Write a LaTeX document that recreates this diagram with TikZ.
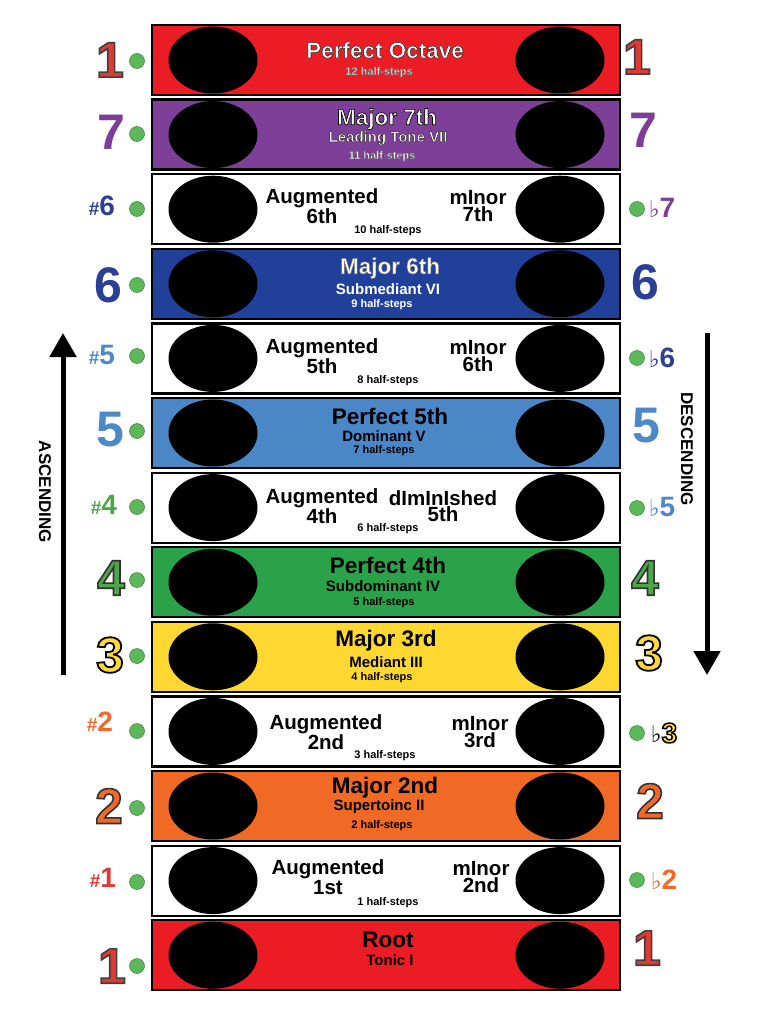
\documentclass[tikz,border=0pt]{standalone}
\usepackage{fontspec}
\setmainfont{Liberation Sans}
\newfontfamily\symfont{DejaVu Serif}
\usetikzlibrary{shapes.geometric,arrows.meta}
\definecolor{bRed}{HTML}{EC1C24}
\definecolor{bPurple}{HTML}{7E3F98}
\definecolor{bDBlue}{HTML}{21409A}
\definecolor{bLBlue}{HTML}{4B86C6}
\definecolor{bGreen}{HTML}{2AA24A}
\definecolor{bYellow}{HTML}{FFD731}
\definecolor{bOrange}{HTML}{F06A25}
\definecolor{nRed}{HTML}{E03A33}
\definecolor{nPurple}{HTML}{7B3F98}
\definecolor{nDBlue}{HTML}{2B3F94}
\definecolor{nLBlue}{HTML}{4D88C9}
\definecolor{nGreen}{HTML}{4FA54B}
\definecolor{nYellow}{HTML}{FFD93A}
\definecolor{nOrange}{HTML}{F0692A}
\definecolor{dotGreen}{HTML}{5DB85C}
% outlined text: #1 = stroke grey level (0..1), #2 = stroke width, #3 = text
\newcommand\ostroke[3]{\special{pdf:literal direct 2 Tr #2 w #1 G}#3\special{pdf:literal direct 0 Tr}}
\newcommand\flatsign{{\symfont\fontsize{23}{23}\selectfont ♭}}
\newcommand\sharpsign{{\fontsize{19}{19}\selectfont\#}}
\begin{document}
\begin{tikzpicture}[x=1pt,y=-1pt,
  bar/.style={draw=black, line width=2.2pt, minimum width=468pt, minimum height=70pt, inner sep=0pt},
  hole/.style={ellipse, fill=black, minimum width=89pt, minimum height=67pt, inner sep=0pt},
  dot/.style={circle, fill=dotGreen, draw=dotGreen!70!black, line width=0.5pt, minimum size=15pt, inner sep=0pt},
  ttl/.style={font=\bfseries\fontsize{22.5}{22.5}\selectfont, inner sep=0pt},
  sub/.style={font=\bfseries\fontsize{15}{15}\selectfont, inner sep=0pt},
  hs/.style={font=\bfseries\fontsize{11}{11}\selectfont, inner sep=0pt},
  aug/.style={font=\bfseries\fontsize{20.5}{16.5}\selectfont, inner sep=0pt, align=center},
  big/.style={font=\bfseries\fontsize{50}{50}\selectfont, inner sep=0pt},
  acc/.style={font=\bfseries\fontsize{28}{28}\selectfont, inner sep=0pt},
  side/.style={font=\bfseries\fontsize{17}{17}\selectfont, inner sep=0pt, rotate=-90},
  dirarrow/.style={line width=5pt, -{Triangle[width=26pt,length=24pt]}}
]
\useasboundingbox (0,0) rectangle (768,1024);
\fill[white] (0,0) rectangle (768,1024);

% ---------- bars ----------
\node[bar, fill=bRed]    (b1)  at (386,60)  {};
\node[bar, fill=bPurple] (b2)  at (386,134.6) {};
\node[bar, fill=white]   (b3)  at (386,209.2) {};
\node[bar, fill=bDBlue]  (b4)  at (386,283.8) {};
\node[bar, fill=white]   (b5)  at (386,358.4) {};
\node[bar, fill=bLBlue]  (b6)  at (386,433) {};
\node[bar, fill=white]   (b7)  at (386,507.6) {};
\node[bar, fill=bGreen]  (b8)  at (386,582.2) {};
\node[bar, fill=bYellow] (b9)  at (386,656.8) {};
\node[bar, fill=white]   (b10) at (386,731.4) {};
\node[bar, fill=bOrange] (b11) at (386,806) {};
\node[bar, fill=white]   (b12) at (386,880.6) {};
\node[bar, fill=bRed]    (b13) at (386,955.2) {};

% ---------- black ellipses ----------
\foreach \i/\y in {1/60,2/134.6,3/209.2,4/283.8,5/358.4,6/433,7/507.6,8/582.2,9/656.8,10/731.4,11/806,12/880.6,13/955.2}{
  \node[hole] (hl\i) at (213,\y) {};
  \node[hole] (hr\i) at (560,\y) {};
}

% ---------- bar texts ----------
\node[ttl, text=white] (t1) at (385,50) {\ostroke{0.2}{0.6}{Perfect Octave}};
\node[hs, text=black!12] (h1) at (379,72) {\ostroke{0.4}{0.4}{12 half-steps}};

\node[ttl, text=white] (t2) at (387,119) {\ostroke{0}{0.65}{Major 7th}};
\node[sub, text=white] (s2) at (388,138) {\ostroke{0.15}{0.45}{Leading Tone VII}};
\node[hs, text=white] (h2) at (382,156) {\ostroke{0.3}{0.35}{11 half-steps}};

\node[aug] (a3) at (322,206) {Augmented\\6th};
\node[aug] (m3) at (478,206) {mInor\\7th};
\node[hs] (h3) at (388,231) {10 half-steps};

\node[ttl, text=white] (t4) at (390,268) {\ostroke{0.45}{0.5}{Major 6th}};
\node[sub, text=white] (s4) at (388,289) {Submediant VI};
\node[hs, text=white] (h4) at (382,305) {9 half-steps};

\node[aug] (a5) at (322,356) {Augmented\\5th};
\node[aug] (m5) at (478,356) {mInor\\6th};
\node[hs] (h5) at (388,381) {8 half-steps};

\node[ttl] (t6) at (390,416) {Perfect 5th};
\node[sub] (s6) at (384,436) {Dominant V};
\node[hs] (h6) at (384,451) {7 half-steps};

\node[aug] (a7) at (322,506) {Augmented\\4th};
\node[aug] (m7) at (443,506) {dImInIshed\\5th};
\node[hs] (h7) at (388,529) {6 half-steps};

\node[ttl] (t8) at (388,565) {Perfect 4th};
\node[sub] (s8) at (383,586) {Subdominant IV};
\node[hs] (h8) at (384,603) {5 half-steps};

\node[ttl] (t9) at (386,641) {Major 3rd};
\node[sub] (s9) at (386,662) {Mediant III};
\node[hs] (h9) at (382,678) {4 half-steps};

\node[aug] (a10) at (326,732) {Augmented\\2nd};
\node[aug] (m10) at (480,732) {mInor\\3rd};
\node[hs] (h10) at (385,756) {3 half-steps};

\node[ttl] (t11) at (385,788) {Major 2nd};
\node[sub] (s11) at (379,807) {Supertoinc II};
\node[hs] (h11) at (382,826) {2 half-steps};

\node[aug] (a12) at (328,877) {Augmented\\1st};
\node[aug] (m12) at (481,877) {mInor\\2nd};
\node[hs] (h12) at (388,903) {1 half-steps};

\node[ttl] (t13) at (388,940) {Root};
\node[sub] (s13) at (390,960) {Tonic I};

% ---------- left green dots ----------
\foreach \i/\y in {1/61,2/134,3/209,4/285,5/356,6/431,7/507,8/580,9/656,10/731,11/808,12/882,13/966}{
  \node[dot] (dl\i) at (137,\y) {};
}
% ---------- right green dots (flats) ----------
\foreach \i/\y in {3/209,5/358,7/508,10/733,12/880}{
  \node[dot] (dr\i) at (637,\y) {};
}

% ---------- left degree labels ----------
\node[big, text=nRed]    (nl1)  at (110,60)  {\ostroke{0.25}{1.6}{1}};
\node[big, text=nPurple] (nl2)  at (111,132) {7};
\node[acc, text=nDBlue]  (nl3)  at (102,206) {\sharpsign6};
\node[big, text=nDBlue]  (nl4)  at (108,285) {6};
\node[acc, text=nLBlue]  (nl5)  at (102,355) {\sharpsign5};
\node[big, text=nLBlue]  (nl6)  at (110,430) {5};
\node[acc, text=nGreen]  (nl7)  at (104,505) {\sharpsign4};
\node[big, text=nGreen]  (nl8)  at (111,578) {\ostroke{0.2}{1.6}{4}};
\node[big, text=nYellow] (nl9)  at (110,655) {\ostroke{0}{1.8}{3}};
\node[acc, text=nOrange] (nl10) at (100,722) {\sharpsign2};
\node[big, text=nOrange] (nl11) at (109,806) {\ostroke{0.2}{1.6}{2}};
\node[acc, text=nRed]    (nl12) at (103,878) {\sharpsign1};
\node[big, text=nRed]    (nl13) at (112,966) {\ostroke{0.25}{1.6}{1}};

% ---------- right degree labels ----------
\node[big, text=nRed]    (nr1)  at (637,57)  {\ostroke{0.25}{1.6}{1}};
\node[big, text=nPurple] (nr2)  at (643,130) {7};
\node[acc, text=nPurple] (nr3)  at (662,208) {\flatsign7};
\node[big, text=nDBlue]  (nr4)  at (645,282) {6};
\node[acc, text=nDBlue]  (nr5)  at (662,358) {\flatsign6};
\node[big, text=nLBlue]  (nr6)  at (646,426) {5};
\node[acc, text=nLBlue]  (nr7)  at (662,507) {\flatsign5};
\node[big, text=nGreen]  (nr8)  at (645,578) {\ostroke{0.2}{1.6}{4}};
\node[big, text=nYellow] (nr9)  at (649,653) {\ostroke{0}{1.8}{3}};
\node[acc, text=nYellow] (nr10) at (664,733) {\textcolor{black}{\flatsign}\ostroke{0}{1.5}{3}};
\node[big, text=nOrange] (nr11) at (650,801) {\ostroke{0.2}{1.6}{2}};
\node[acc, text=nOrange] (nr12) at (664,880) {\flatsign2};
\node[big, text=nRed]    (nr13) at (647,948) {\ostroke{0.25}{1.6}{1}};

% ---------- direction arrows ----------
\coordinate (ascB) at (63,675);
\coordinate (ascT) at (63,333);
\draw[dirarrow] (ascB) -- (ascT);
\node[side] (ascL) at (45,492) {ASCENDING};

\coordinate (desT) at (707,333);
\coordinate (desB) at (707,675);
\draw[dirarrow] (desT) -- (desB);
\node[side] (desL) at (687,449) {DESCENDING};
\end{tikzpicture}
\end{document}
